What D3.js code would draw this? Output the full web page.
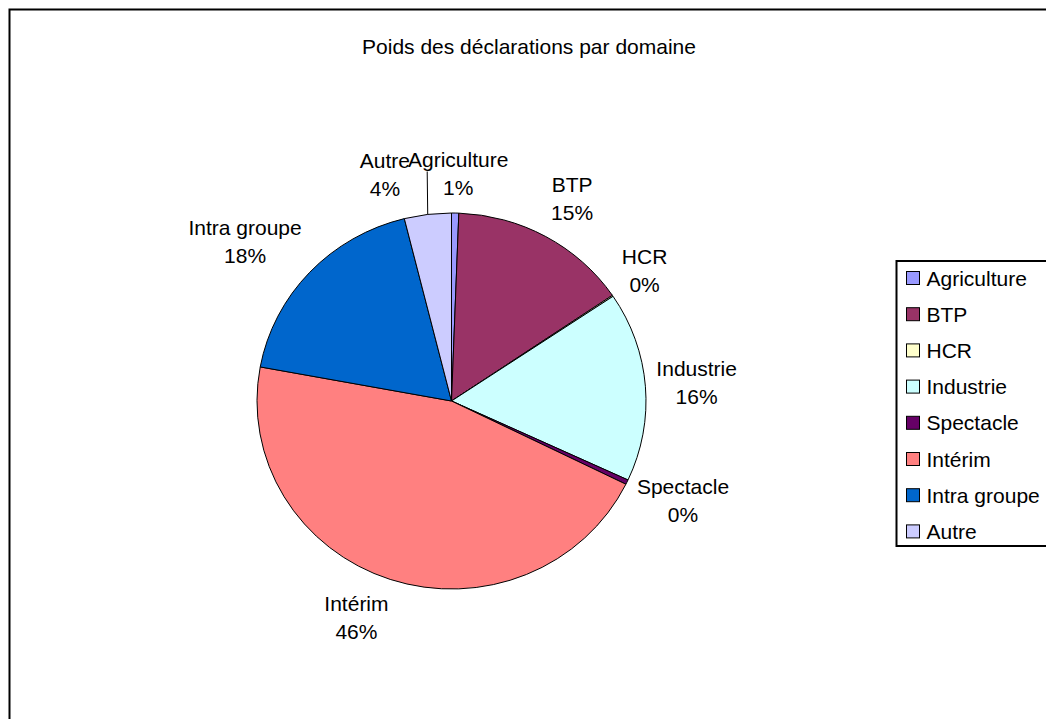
<!DOCTYPE html>
<html>
<head>
<meta charset="utf-8">
<script src="https://cdn.jsdelivr.net/npm/d3@7"></script>
<style>
  body { margin: 0; background: #fff; }
  text { font-family: Arial, "Liberation Sans", sans-serif; fill: #000; }
</style>
</head>
<body>
<div id="chart"></div>
<script>
// data (share of declarations, %)
var categories = ["Agriculture", "BTP", "HCR", "Industrie", "Spectacle", "Intérim", "Intra groupe", "Autre"];
var shares = [0.6, 14.9, 0.1, 16.3, 0.4, 45.6, 18.2, 3.9];
var colors = ["#9999FF", "#993366", "#FFFFCC", "#CCFFFF", "#660066", "#FF8080", "#0066CC", "#CCCCFF"];
var title = "Poids des déclarations par domaine";

var width = 1046, height = 719,
    cx = 451.5, cy = 401,
    rx = 194.5, ry = 188,       // the pie is a touch wider than tall in the original
    fontSize = 21, lineH = 28, gap = 11, kx = 3, ky = 1.2;

var svg = d3.select("#chart").append("svg")
    .attr("width", width)
    .attr("height", height);

// chart area frame (runs past the right and bottom edges)
svg.append("rect")
    .attr("x", 9.5).attr("y", 9.5)
    .attr("width", 1100).attr("height", 800)
    .attr("fill", "#fff")
    .attr("stroke", "#000")
    .attr("stroke-width", 2);

svg.append("text")
    .attr("x", 529).attr("y", 54)
    .attr("text-anchor", "middle")
    .attr("font-size", fontSize)
    .text(title);

var data = categories.map(function(c, i) {
    return { key: c, value: shares[i], color: colors[i] };
});
var total = d3.sum(shares);

var pie = d3.pie().sort(null).value(function(d) { return d.value; });
var arc = d3.arc().innerRadius(0).outerRadius(ry);
var arcs = pie(data);

var g = svg.append("g").attr("transform", "translate(" + cx + "," + cy + ")");

g.append("g")
    .attr("transform", "scale(" + (rx / ry) + ",1)")
    .selectAll("path.slice")
    .data(arcs)
    .enter().append("path")
    .attr("class", "slice")
    .attr("d", arc)
    .attr("fill", function(d) { return d.data.color; })
    .attr("stroke", "#000")
    .attr("stroke-width", 1)
    .attr("vector-effect", "non-scaling-stroke");

// labels: name + rounded percent; the near edge/corner of the box sits just outside the pie
var labels = g.selectAll("g.lab")
    .data(arcs)
    .enter().append("g")
    .attr("class", "lab");

labels.append("text")
    .attr("text-anchor", "middle")
    .attr("font-size", fontSize)
    .attr("y", -lineH / 2 + 7)
    .text(function(d) { return d.data.key; });
labels.append("text")
    .attr("text-anchor", "middle")
    .attr("font-size", fontSize)
    .attr("y", lineH / 2 + 7)
    .text(function(d) { return Math.round(d.value / total * 100) + "%"; });

function clamp(v) { return Math.max(-1, Math.min(1, v)); }

var boxes = [];
labels.each(function(d) {
    var w = 0;
    d3.select(this).selectAll("text").each(function() {
        w = Math.max(w, this.getComputedTextLength());
    });
    var a = (d.startAngle + d.endAngle) / 2;
    var px = Math.sin(a) * (rx + gap),
        py = -Math.cos(a) * (ry + gap);
    var bx = px + clamp(Math.sin(a) * kx) * w / 2,
        by = py - clamp(Math.cos(a) * ky) * lineH;
    boxes.push({ d: d, a: a, w: w, x: bx, y: by, el: this, moved: false });
});

// overlap fix: push a later label to the left of the one it hits
boxes.forEach(function(b, i) {
    for (var j = 0; j < i; j++) {
        var o = boxes[j];
        if (Math.abs(b.x - o.x) < (b.w + o.w) / 2 && Math.abs(b.y - o.y) < lineH * 2 && b.x < o.x) {
            b.x = o.x - o.w / 2 - b.w / 2 + 2;
            b.moved = true;
        }
    }
});

boxes.forEach(function(b) {
    d3.select(b.el).attr("transform", "translate(" + b.x + "," + b.y + ")");
    if (b.moved) {
        // leader line from the slice edge up to the label
        var x0 = Math.sin(b.a) * rx, y0 = -Math.cos(b.a) * ry;
        var y1 = b.y - 4;
        var x1 = x0 - (y1 - y0) * Math.tan(b.a) * 0.1;
        g.append("line")
            .attr("x1", x0).attr("y1", y0)
            .attr("x2", x1).attr("y2", y1)
            .attr("stroke", "#000")
            .attr("stroke-width", 1);
    }
});

// legend
var legendTop = 261, legendLeft = 896.5, rowH = 36.2;
svg.append("rect")
    .attr("x", legendLeft).attr("y", legendTop)
    .attr("width", 200).attr("height", 285)
    .attr("fill", "#fff")
    .attr("stroke", "#000")
    .attr("stroke-width", 2);

var leg = svg.selectAll("g.leg")
    .data(data)
    .enter().append("g")
    .attr("class", "leg")
    .attr("transform", function(d, i) {
        return "translate(" + (legendLeft + 10) + "," + (legendTop + 17 + i * rowH) + ")";
    });

leg.append("rect")
    .attr("x", 0).attr("y", -6.5)
    .attr("width", 13).attr("height", 13)
    .attr("fill", function(d) { return d.color; })
    .attr("stroke", "#000")
    .attr("stroke-width", 1);

leg.append("text")
    .attr("x", 20)
    .attr("y", 7.5)
    .attr("font-size", fontSize)
    .text(function(d) { return d.key; });
</script>
</body>
</html>
